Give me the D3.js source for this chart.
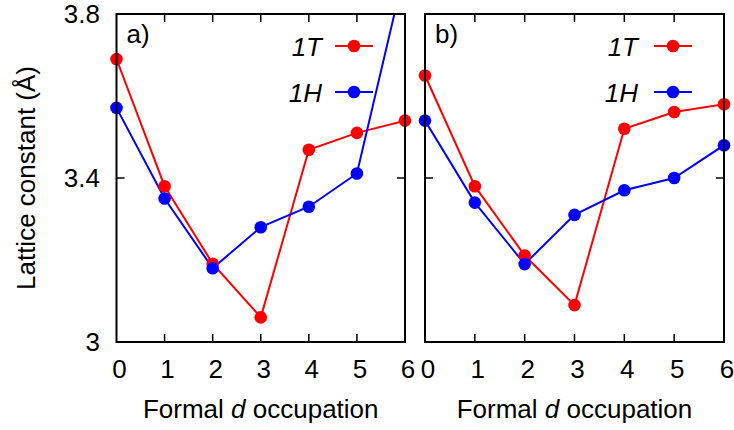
<!DOCTYPE html>
<html><head><meta charset="utf-8">
<script src="https://cdn.jsdelivr.net/npm/d3@7"></script>
<style>body{margin:0;background:#fff}svg{display:block}text{font-family:"Liberation Sans",Arial,sans-serif;fill:#000}</style>
</head><body>
<svg id="c" width="734" height="430"></svg>
<script>
const occupation = [0, 1, 2, 3, 4, 5, 6];
const a_1T = [3.69, 3.38, 3.191, 3.06, 3.469, 3.51, 3.54];
const a_1H = [3.571, 3.35, 3.18, 3.28, 3.33, 3.411, 3.91];
const b_1T = [3.65, 3.38, 3.211, 3.09, 3.52, 3.561, 3.58];
const b_1H = [3.54, 3.34, 3.19, 3.31, 3.37, 3.40, 3.48];
const yTicks = [3, 3.4, 3.8];
const yTickLabels = ["3", "3.4", "3.8"];
const seriesNames = ["1T", "1H"];
const seriesColors = ["#ff0000", "#0000ff"];

const FS = 26;
const svg = d3.select("#c");
const plotTop = 14, plotBottom = 342;
const y = d3.scaleLinear().domain([3, 3.8]).range([plotBottom, plotTop]);

const panels = [
  {id: "a", label: "a)", x0: 116.5, x1: 405, data: [a_1T, a_1H], legX: 335, legText: 322},
  {id: "b", label: "b)", x0: 425, x1: 724, data: [b_1T, b_1H], legX: 654, legText: 638}
];

panels.forEach((p, pi) => {
  const x = d3.scaleLinear().domain([0, 6]).range([p.x0, p.x1]);
  const g = svg.append("g");
  g.append("clipPath").attr("id", "clip" + p.id).append("rect")
    .attr("x", p.x0).attr("y", plotTop).attr("width", p.x1 - p.x0).attr("height", plotBottom - plotTop);

  const xt = occupation.slice(1, 6);
  g.selectAll(".xtb").data(xt).join("line")
    .attr("x1", d => x(d)).attr("x2", d => x(d)).attr("y1", plotBottom).attr("y2", plotBottom - 8)
    .attr("stroke", "#000").attr("stroke-width", 1.5);
  g.selectAll(".xtt").data(xt).join("line")
    .attr("x1", d => x(d)).attr("x2", d => x(d)).attr("y1", plotTop).attr("y2", plotTop + 8)
    .attr("stroke", "#000").attr("stroke-width", 1.5);
  g.selectAll(".ytl").data([3.4]).join("line")
    .attr("x1", p.x0).attr("x2", p.x0 + 8).attr("y1", d => y(d)).attr("y2", d => y(d))
    .attr("stroke", "#000").attr("stroke-width", 1.5);
  g.selectAll(".ytr").data([3.4]).join("line")
    .attr("x1", p.x1).attr("x2", p.x1 - 8).attr("y1", d => y(d)).attr("y2", d => y(d))
    .attr("stroke", "#000").attr("stroke-width", 1.5);

  g.selectAll(".xl").data(occupation).join("text")
    .attr("x", d => x(d) + 3).attr("y", 378).attr("text-anchor", "middle")
    .attr("font-size", FS).text(d => d);

  const xt2 = g.append("text").attr("x", (p.x0 + p.x1) / 2).attr("y", 418)
    .attr("text-anchor", "middle").attr("font-size", FS);
  xt2.append("tspan").text("Formal ");
  xt2.append("tspan").attr("font-style", "italic").text("d");
  xt2.append("tspan").text(" occupation");

  const line = d3.line().x((d, i) => x(occupation[i])).y(d => y(d));
  const plot = g.append("g").attr("clip-path", `url(#clip${p.id})`);
  p.data.forEach((vals, si) => {
    plot.append("path").datum(vals).attr("d", line).attr("fill", "none")
      .attr("stroke", seriesColors[si]).attr("stroke-width", 2);
  });
  p.data.forEach((vals, si) => {
    g.selectAll(".pt" + si).data(vals.map((v, i) => [i, v]).filter(d => d[1] <= 3.8)).join("circle")
      .attr("cx", d => x(occupation[d[0]])).attr("cy", d => y(d[1])).attr("r", 6.3)
      .attr("fill", seriesColors[si]);
  });

  seriesNames.forEach((n, si) => {
    const ly = 46 + si * 46;
    g.append("text").attr("x", p.legText).attr("y", ly + 9.5).attr("text-anchor", "end")
      .attr("font-size", FS).attr("font-style", "italic").text(n);
    g.append("line").attr("x1", p.legX).attr("x2", p.legX + 38).attr("y1", ly).attr("y2", ly)
      .attr("stroke", seriesColors[si]).attr("stroke-width", 2);
    g.append("circle").attr("cx", p.legX + 19).attr("cy", ly).attr("r", 6.3).attr("fill", seriesColors[si]);
  });

  g.append("text").attr("x", p.x0 + 10).attr("y", 43).attr("font-size", FS).text(p.label);

  g.append("rect").attr("x", p.x0).attr("y", plotTop).attr("width", p.x1 - p.x0).attr("height", plotBottom - plotTop)
    .attr("fill", "none").attr("stroke", "#000").attr("stroke-width", 2);
});

svg.selectAll(".yl").data(yTicks).join("text")
  .attr("x", 100).attr("y", d => y(d) + 9).attr("text-anchor", "end").attr("font-size", FS)
  .text((d, i) => yTickLabels[i]);

svg.append("text").attr("transform", `translate(35,${(plotTop + plotBottom) / 2}) rotate(-90)`)
  .attr("text-anchor", "middle").attr("font-size", FS).text("Lattice constant (Å)");
</script>
</body></html>
